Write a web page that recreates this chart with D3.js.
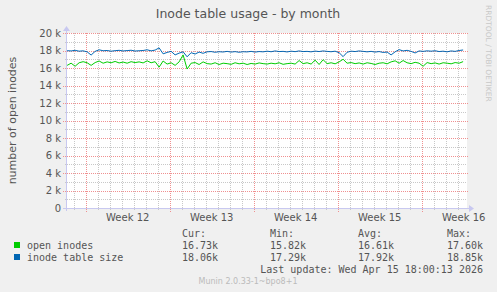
<!DOCTYPE html>
<html>
<head>
<meta charset="utf-8">
<script src="https://cdn.jsdelivr.net/npm/d3@7"></script>
<style>
  body { margin: 0; background: #f0f0f0; }
  svg { display: block; }
</style>
</head>
<body>
<svg id="vis"></svg>
<script>
const WIDTH = 497;
const HEIGHT = 292;

// time in days, 0 = monday of week 12, one sample every 8 hours
const START_DAY = -1.55;
const STEP_DAY = 1 / 3;

const weeks = ["Week 12", "Week 13", "Week 14", "Week 15", "Week 16"];
const yTicks = [0, 2000, 4000, 6000, 8000, 10000, 12000, 14000, 16000, 18000, 20000];

// values in thousands
const openInodes = [
  16.30, 16.55, 16.20, 16.60, 16.72, 16.60, 16.30, 16.62, 16.80, 16.55,
  16.70, 16.60, 16.75, 16.58, 16.68, 16.55, 16.72, 16.62, 16.70, 16.58,
  16.82, 16.60, 16.72, 16.10, 16.80, 16.45, 16.60, 16.30, 16.70, 17.50,
  15.88, 16.55, 16.62, 16.40, 16.70, 16.50, 16.45, 16.60, 16.40, 16.55,
  16.50, 16.42, 16.60, 16.48, 16.55, 16.40, 16.52, 16.45, 16.58, 16.50,
  16.45, 16.55, 16.48, 16.60, 16.42, 16.50, 16.55, 16.45, 16.85, 16.50,
  16.60, 16.45, 16.90, 16.40, 16.95, 16.50, 16.60, 16.48, 16.70, 17.00,
  16.55, 16.62, 16.50, 16.58, 16.45, 16.60, 16.52, 16.40, 16.55, 16.60,
  16.48, 16.70, 16.82, 16.55, 16.85, 16.60, 16.50, 16.65, 16.55, 16.20,
  16.62, 16.50, 16.58, 16.45, 16.60, 16.55, 16.48, 16.62, 16.55, 16.73
];
const tableSize = [
  17.98, 17.95, 18.02, 17.92, 17.96, 17.85, 17.48, 17.90, 18.08, 17.97,
  18.00, 17.92, 17.98, 18.02, 17.95, 17.99, 18.03, 17.94, 17.97, 18.00,
  18.08, 17.96, 18.05, 18.30, 17.62, 17.78, 17.90, 17.50, 17.70, 17.85,
  17.28, 17.75, 17.60, 17.82, 17.68, 17.85, 17.88, 17.80, 17.86, 17.83,
  17.90, 17.82, 17.87, 17.80, 17.86, 17.84, 17.90, 17.82, 17.88, 17.85,
  17.92, 17.86, 17.95, 17.88, 17.90, 17.84, 17.92, 17.87, 17.95, 17.88,
  17.90, 17.85, 17.93, 17.88, 17.95, 17.90, 17.86, 17.92, 17.75, 17.30,
  17.80, 17.92, 17.88, 17.95, 17.90, 17.85, 17.90, 17.82, 17.88, 17.78,
  17.82, 17.50, 17.85, 18.10, 17.95, 18.02, 17.90, 17.72, 17.95, 17.90,
  17.96, 17.92, 17.97, 17.88, 17.92, 17.85, 17.95, 17.90, 18.00, 18.06
];

const legendNames = ["open inodes", "inode table size"];
const legendColors = ["#00cc00", "#0066b3"];
const statHeads = ["Cur:", "Min:", "Avg:", "Max:"];
const statValues = [
  ["16.73k", "15.82k", "16.61k", "17.60k"],
  ["18.06k", "17.29k", "17.92k", "18.85k"]
];

const svg = d3.select("#vis")
    .attr("width", WIDTH)
    .attr("height", HEIGHT)
    .style("font-family", "'DejaVu Sans', sans-serif");

svg.append("rect").attr("width", WIDTH).attr("height", HEIGHT).attr("fill", "#f0f0f0");

const pLeft = 67, pRight = 467, pTop = 33, pBottom = 208;

const x = d3.scaleLinear()
    .domain([START_DAY - 0.01, START_DAY - 0.01 + 400 / 12])
    .range([pLeft, pRight]);
const y = d3.scaleLinear().domain([0, 20000]).range([pBottom, pTop]);

svg.append("rect")
    .attr("x", pLeft).attr("y", pTop)
    .attr("width", pRight - pLeft).attr("height", pBottom - pTop)
    .attr("fill", "white");

const grid = svg.append("g").attr("shape-rendering", "crispEdges");

// minor grid, every day and every 1k
const days = d3.range(-1, 32).filter(d => d % 7 !== 0);
grid.selectAll(".vday").data(days).join("line")
    .attr("x1", d => Math.round(x(d)) + 0.5).attr("x2", d => Math.round(x(d)) + 0.5)
    .attr("y1", pTop).attr("y2", pBottom + 2)
    .attr("stroke", "#c8c8c8").attr("stroke-dasharray", "1,1");
const minorY = d3.range(1000, 20001, 2000);
grid.selectAll(".hmin").data(minorY).join("line")
    .attr("x1", pLeft - 2).attr("x2", pRight)
    .attr("y1", d => Math.round(y(d)) + 0.5).attr("y2", d => Math.round(y(d)) + 0.5)
    .attr("stroke", "#c8c8c8").attr("stroke-dasharray", "1,1");

// major grid
const weekStarts = [0, 7, 14, 21, 28];
grid.selectAll(".vweek").data(weekStarts).join("line")
    .attr("x1", d => Math.round(x(d)) + 0.5).attr("x2", d => Math.round(x(d)) + 0.5)
    .attr("y1", pTop).attr("y2", pBottom + 4)
    .attr("stroke", "#f09090").attr("stroke-dasharray", "1,1");
grid.selectAll(".hmaj").data(yTicks.slice(1)).join("line")
    .attr("x1", pLeft - 4).attr("x2", pRight + 1)
    .attr("y1", d => Math.round(y(d)) + 0.5).attr("y2", d => Math.round(y(d)) + 0.5)
    .attr("stroke", "#f09090").attr("stroke-dasharray", "1,1");

// axes
grid.append("line")
    .attr("x1", pLeft - 4).attr("x2", pRight + 3)
    .attr("y1", pBottom + 0.5).attr("y2", pBottom + 0.5)
    .attr("stroke", "#c8c8f0");
grid.append("line")
    .attr("x1", pLeft - 0.5).attr("x2", pLeft - 0.5)
    .attr("y1", pTop - 3).attr("y2", pBottom + 3)
    .attr("stroke", "#c8c8f0");
svg.append("path")
    .attr("d", `M${pRight + 2},${pBottom - 3} L${pRight + 7},${pBottom + 0.5} L${pRight + 2},${pBottom + 4} Z`)
    .attr("fill", "#c8c8f0");
svg.append("path")
    .attr("d", `M${pLeft - 4},${pTop - 2} L${pLeft - 0.5},${pTop - 7} L${pLeft + 3},${pTop - 2} Z`)
    .attr("fill", "#c8c8f0");

// y tick labels
svg.selectAll(".ylab").data(yTicks).join("text")
    .attr("x", pLeft - 6)
    .attr("y", d => y(d) + 3.5)
    .attr("text-anchor", "end")
    .attr("font-size", 10)
    .attr("fill", "#555")
    .text(d => d === 0 ? "0" : `${d / 1000} k`);

// week labels
svg.selectAll(".xlab").data(weeks).join("text")
    .attr("x", (d, i) => x(weekStarts[i] + 3.5))
    .attr("y", 221)
    .attr("text-anchor", "middle")
    .attr("font-size", 10)
    .attr("fill", "#555")
    .text(d => d);

// series
const line = d3.line()
    .x((d, i) => x(START_DAY + i * STEP_DAY))
    .y(d => y(d * 1000));

[openInodes, tableSize].forEach((s, i) => {
    svg.append("path")
        .attr("d", line(s))
        .attr("fill", "none")
        .attr("stroke", legendColors[i])
        .attr("stroke-width", 1);
});

// titles
svg.append("text")
    .attr("x", 248).attr("y", 18)
    .attr("text-anchor", "middle")
    .attr("font-size", 12.5)
    .attr("fill", "#555")
    .text("Inode table usage - by month");

svg.append("text")
    .attr("transform", `translate(16, ${(pTop + pBottom) / 2}) rotate(-90)`)
    .attr("text-anchor", "middle")
    .attr("font-size", 11)
    .attr("fill", "#555")
    .text("number of open inodes");

svg.append("text")
    .attr("transform", "translate(486, 5) rotate(90)")
    .attr("font-size", 7.5)
    .attr("fill", "#c8c8c8")
    .text("RRDTOOL / TOBI OETIKER");

// legend
const mono = "'DejaVu Sans Mono', monospace";
const statX = [182, 270, 358, 447];

svg.selectAll(".head").data(statHeads).join("text")
    .attr("x", (d, i) => statX[i]).attr("y", 237)
    .attr("font-family", mono).attr("font-size", 10).attr("fill", "#555")
    .text(d => d);

legendNames.forEach((name, r) => {
    const yy = 249 + r * 12;
    svg.append("rect")
        .attr("x", 14).attr("y", yy - 7)
        .attr("width", 6).attr("height", 6)
        .attr("fill", legendColors[r]);
    svg.append("text")
        .attr("x", 27).attr("y", yy)
        .attr("font-family", mono).attr("font-size", 10).attr("fill", "#555")
        .text(name);
    svg.selectAll(".v" + r).data(statValues[r]).join("text")
        .attr("x", (d, i) => statX[i]).attr("y", yy)
        .attr("font-family", mono).attr("font-size", 10).attr("fill", "#555")
        .text(d => d);
});

svg.append("text")
    .attr("x", 483).attr("y", 273)
    .attr("text-anchor", "end")
    .attr("font-family", mono).attr("font-size", 10).attr("fill", "#555")
    .text("Last update: Wed Apr 15 18:00:13 2026");

svg.append("text")
    .attr("x", 248).attr("y", 284)
    .attr("text-anchor", "middle")
    .attr("font-size", 8).attr("fill", "#bbb")
    .text("Munin 2.0.33-1~bpo8+1");
</script>
</body>
</html>
